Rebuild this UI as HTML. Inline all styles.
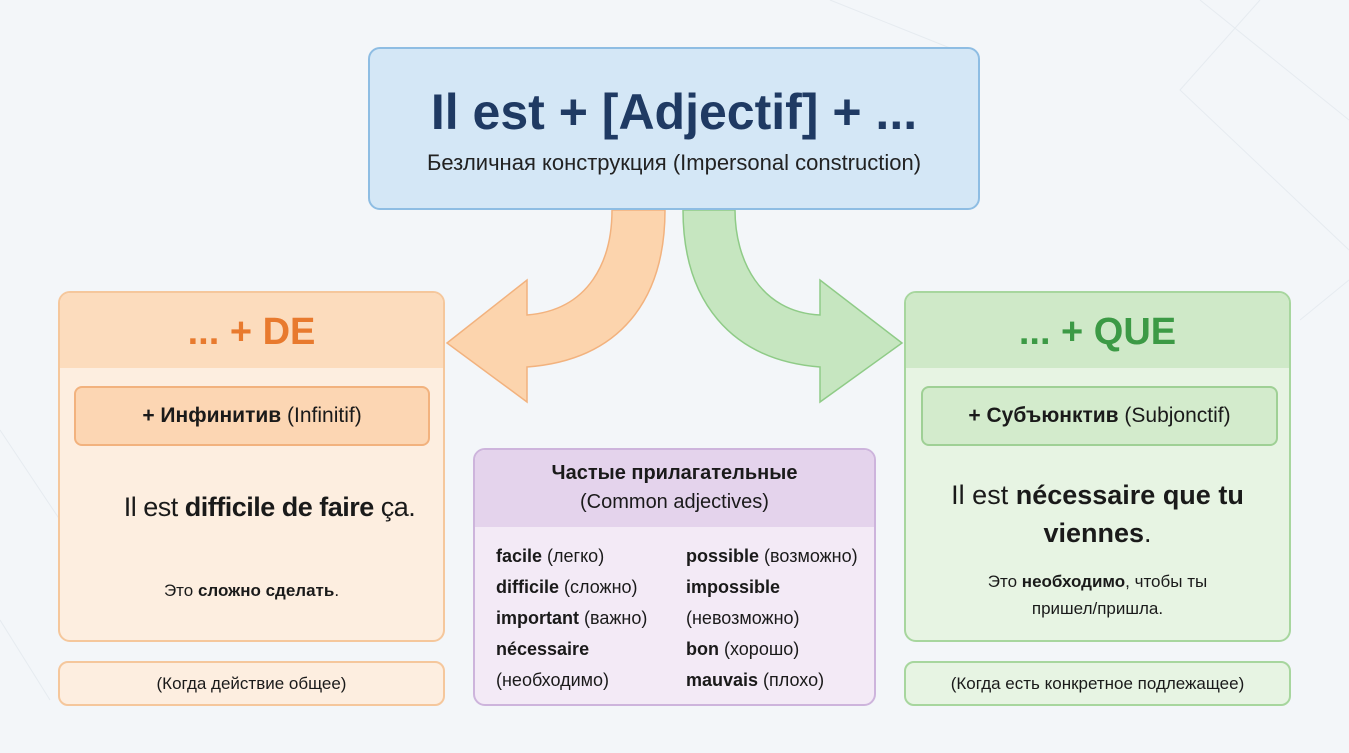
<!DOCTYPE html>
<html><head><meta charset="utf-8"><style>
body{margin:0;width:1349px;height:753px;background:#f3f6f9;font-family:"Liberation Sans","DejaVu Sans",sans-serif;position:relative;overflow:hidden;color:#1a1a1a}
.a{position:absolute;box-sizing:border-box}
.c{display:flex;align-items:center;justify-content:center;text-align:center}
b{font-weight:bold}
</style></head><body>
<svg class="a" style="left:0;top:0" width="1349" height="753">
<g stroke="#e6ebf0" stroke-width="1" fill="none">
<path d="M1200 0 L1349 120 M1260 0 L1180 90 L1349 250 M830 0 L980 60 M1300 320 L1349 280 M0 430 L60 520 M0 620 L50 700"/>
</g>
<path d="M612 210 C612 260 590 310 527 315 L527 280 L447 343 L527 402 L527 367 C620 360 665 300 665 210 Z" fill="#fcd4ad" stroke="#f2b27e" stroke-width="1.5"/>
<path d="M735 210 C735 260 760 312 820 315 L820 280 L902 343 L820 402 L820 367 C730 360 683 300 683 210 Z" fill="#c6e6c0" stroke="#8fcb87" stroke-width="1.5"/>
</svg>
<div class="a" style="left:368px;top:47px;width:612px;height:163px;background:#d4e7f6;border:2px solid #8ebde3;border-radius:12px"></div>
<div class="a c" style="left:368px;top:80px;width:612px;height:64px;font-size:50px;font-weight:bold;color:#1f3a63">Il est + [Adjectif] + ...</div>
<div class="a c" style="left:368px;top:148px;width:612px;height:30px;font-size:22px;color:#222">Безличная конструкция (Impersonal construction)</div>

<div class="a" style="left:58px;top:291px;width:387px;height:351px;background:#fdeee0;border:2px solid #f5c79c;border-radius:12px;overflow:hidden">
<div style="height:75px;background:#fcdcbd"></div></div>
<div class="a c" style="left:58px;top:303px;width:387px;height:58px;font-size:38px;font-weight:bold;color:#e87a2e">... + DE</div>
<div class="a c" style="left:74px;top:386px;width:356px;height:60px;background:#fcd6b3;border:2px solid #f2b27e;border-radius:8px;font-size:21px"><span><b>+ Инфинитив</b> (Infinitif)</span></div>
<div class="a c" style="left:76px;top:485px;width:387px;height:44px;font-size:27px;letter-spacing:-0.5px"><span>Il est <b>difficile de faire</b> ça.</span></div>
<div class="a c" style="left:58px;top:578px;width:387px;height:26px;font-size:17px"><span>Это <b>сложно сделать</b>.</span></div>
<div class="a c" style="left:58px;top:661px;width:387px;height:45px;background:#fdeee0;border:2px solid #f5c79c;border-radius:10px;font-size:17px">(Когда действие общее)</div>

<div class="a" style="left:473px;top:448px;width:403px;height:258px;background:#f3eaf6;border:2px solid #cdb4dc;border-radius:12px;overflow:hidden">
<div style="height:77px;background:#e4d3ec"></div></div>
<div class="a c" style="left:473px;top:458px;width:403px;height:60px;font-size:20px;line-height:29px"><span><b>Частые прилагательные</b><br>(Common adjectives)</span></div>
<div class="a" style="left:496px;top:541px;font-size:18px;line-height:31px;width:190px"><b>facile</b> (легко)<br><b>difficile</b> (сложно)<br><b>important</b> (важно)<br><b>nécessaire</b><br>(необходимо)</div>
<div class="a" style="left:686px;top:541px;font-size:18px;line-height:31px;width:190px"><b>possible</b> (возможно)<br><b>impossible</b><br>(невозможно)<br><b>bon</b> (хорошо)<br><b>mauvais</b> (плохо)</div>

<div class="a" style="left:904px;top:291px;width:387px;height:351px;background:#e7f4e3;border:2px solid #a7d69e;border-radius:12px;overflow:hidden">
<div style="height:75px;background:#cfe9c8"></div></div>
<div class="a c" style="left:904px;top:303px;width:387px;height:58px;font-size:38px;font-weight:bold;color:#3c9a45">... + QUE</div>
<div class="a c" style="left:921px;top:386px;width:357px;height:60px;background:#d3ebcc;border:2px solid #9fd095;border-radius:8px;font-size:21px"><span><b>+ Субъюнктив</b> (Subjonctif)</span></div>
<div class="a c" style="left:904px;top:474px;width:387px;height:80px;font-size:27px;line-height:38px"><span>Il est <b>nécessaire que tu<br>viennes</b>.</span></div>
<div class="a c" style="left:904px;top:568px;width:387px;height:54px;font-size:17px;line-height:27px"><span>Это <b>необходимо</b>, чтобы ты<br>пришел/пришла.</span></div>
<div class="a c" style="left:904px;top:661px;width:387px;height:45px;background:#e7f4e3;border:2px solid #a7d69e;border-radius:10px;font-size:17px">(Когда есть конкретное подлежащее)</div>
</body></html>
